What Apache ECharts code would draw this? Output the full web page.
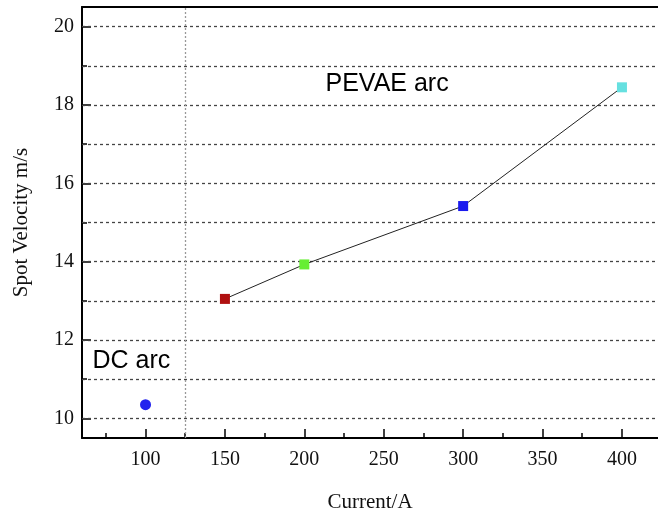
<!DOCTYPE html>
<html><head><meta charset="utf-8">
<script src="https://cdn.jsdelivr.net/npm/echarts@6/dist/echarts.min.js"></script>
<style>html,body{margin:0;padding:0;background:#fff}#c{width:658px;height:517px}</style>
</head><body><div id="c"></div>
<script>
// data
var pevaeCurrent = [150, 200, 300, 400];
var pevaeVelocity = [13.05, 13.93, 15.42, 18.45];
var dcCurrent = [100];
var dcVelocity = [10.35];
var xLabels = [100, 150, 200, 250, 300, 350, 400];
var xMinorTicks = [75, 125, 175, 225, 275, 325, 375, 425];
var yLabels = [10, 12, 14, 16, 18, 20];
var yMinorTicks = [11, 13, 15, 17, 19];
var yGrid = [10, 11, 12, 13, 14, 15, 16, 17, 18, 19, 20];
var divider = 125;
var annotationNames = ['PEVAE arc', 'DC arc'];
var annotationX = [213, 66.3];
var annotationY = [18.53, 11.47];

var pointColors = ['#b01010', '#66ee33', '#1a1aee', '#66e0e0'];
var serif = '"Liberation Serif", "Times New Roman", serif';
var sans = '"Liberation Sans", Arial, sans-serif';

var chart = echarts.init(document.getElementById('c'));
var XMIN = 60, XMAX = 422.7, YMIN = 9.5, YMAX = 20.5;
chart.setOption({
  animation: false,
  grid: {left: 82, top: 7, right: 0, bottom: 79, outerBoundsMode: 'none', containLabel: false},
  xAxis: [
    {type: 'value', min: XMIN, max: XMAX, position: 'bottom',
     name: 'Current/A', nameLocation: 'middle', nameGap: 54,
     nameTextStyle: {fontFamily: serif, fontSize: 21, color: '#111'},
     axisLine: {show: true, onZero: false, lineStyle: {color: '#000', width: 2}},
     axisTick: {show: true, inside: true, length: 9, customValues: xLabels, lineStyle: {color: '#000', width: 1.5}},
     axisLabel: {customValues: xLabels, fontFamily: serif, fontSize: 20, color: '#111', margin: 12},
     splitLine: {show: false}},
    {type: 'value', min: XMIN, max: XMAX, position: 'bottom',
     axisLine: {show: false},
     axisTick: {show: true, inside: true, length: 5, customValues: xMinorTicks, lineStyle: {color: '#000', width: 1.5}},
     axisLabel: {show: false}, splitLine: {show: false}},
    {type: 'value', min: XMIN, max: XMAX, position: 'top',
     axisLine: {show: true, onZero: false, lineStyle: {color: '#000', width: 2}},
     axisTick: {show: false}, axisLabel: {show: false}, splitLine: {show: false}}
  ],
  yAxis: [
    {type: 'value', min: YMIN, max: YMAX, position: 'left',
     name: 'Spot Velocity m/s', nameLocation: 'middle', nameGap: 50,
     nameTextStyle: {fontFamily: serif, fontSize: 21, color: '#111'},
     axisLine: {show: true, onZero: false, lineStyle: {color: '#000', width: 2}},
     axisTick: {show: true, inside: true, length: 9, customValues: yLabels, lineStyle: {color: '#000', width: 1.5}},
     axisLabel: {customValues: yLabels, fontFamily: serif, fontSize: 20, color: '#111', margin: 8},
     splitLine: {show: false}},
    {type: 'value', min: YMIN, max: YMAX, position: 'left',
     axisLine: {show: false},
     axisTick: {show: true, inside: true, length: 5, customValues: yMinorTicks, lineStyle: {color: '#000', width: 1.5}},
     axisLabel: {show: false}, splitLine: {show: false}}
  ],
  series: [
    {type: 'line', xAxisIndex: 0, yAxisIndex: 0, data: [], silent: true,
     markLine: {symbol: 'none', silent: true, label: {show: false},
       lineStyle: {color: '#444', type: [3, 3], width: 1.3},
       data: yGrid.map(function(v){return {yAxis: v};})}},
    {type: 'line', xAxisIndex: 0, yAxisIndex: 0, data: [], silent: true,
     markLine: {symbol: 'none', silent: true, label: {show: false},
       lineStyle: {color: '#999', type: [2, 2], width: 1.3},
       data: [{xAxis: divider}]}},
    {name: 'PEVAE arc', type: 'line', xAxisIndex: 0, yAxisIndex: 0,
     data: pevaeCurrent.map(function(x, i){return [x, pevaeVelocity[i]];}),
     symbol: 'rect', symbolSize: 10, z: 5,
     lineStyle: {color: '#222', width: 1},
     itemStyle: {color: function(p){return pointColors[p.dataIndex];}, opacity: 1}},
    {name: 'DC arc', type: 'scatter', xAxisIndex: 0, yAxisIndex: 0,
     data: dcCurrent.map(function(x, i){return [x, dcVelocity[i]];}),
     symbol: 'circle', symbolSize: 11, z: 5,
     itemStyle: {color: '#2222ee', opacity: 1}},
    {name: 'annotations', type: 'scatter', xAxisIndex: 0, yAxisIndex: 0,
     symbolSize: 1, itemStyle: {color: 'rgba(0,0,0,0)'}, silent: true, z: 6,
     label: {show: true, position: 'right', distance: 0, formatter: '{b}',
       fontFamily: sans, fontSize: 25, color: '#000', opacity: 1,
       textBorderWidth: 0, textBorderColor: 'transparent'},
     data: annotationNames.map(function(n, i){return {name: n, value: [annotationX[i], annotationY[i]]};})}
  ]
});
</script></body></html>
